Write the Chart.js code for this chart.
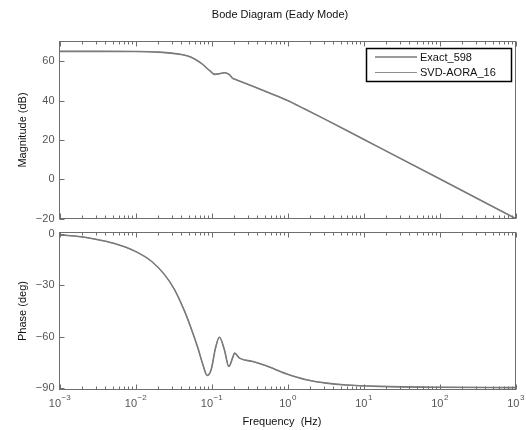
<!DOCTYPE html>
<html>
<head>
<meta charset="utf-8">
<script src="https://cdn.jsdelivr.net/npm/chart.js@4.4.0/dist/chart.umd.min.js"></script>
<style>
  body { margin: 0; background: #fff; }
  #wrap { position: relative; width: 526px; height: 430px; }
  canvas { position: absolute; left: 0; }
  #mag { top: 0; }
  #phase { top: 225px; }
</style>
</head>
<body>
<div id="wrap">
  <canvas id="mag" width="526" height="225"></canvas>
  <canvas id="phase" width="526" height="205"></canvas>
</div>
<script>
// data
const seriesNames = ['Exact_598', 'SVD-AORA_16']

const magFreq = [0.001, 0.003, 0.01, 0.02, 0.027, 0.04, 0.054, 0.073, 0.094, 0.11,
  0.127, 0.148, 0.172, 0.19, 0.2, 0.21, 0.37, 0.6, 1, 1.66, 3, 10, 100, 1000]
const magDb = [65.0, 65.0, 64.9, 64.6, 64.2, 63.4, 62.0, 59.0, 55.3, 53.3,
  53.6, 54.1, 53.1, 51.2, 50.9, 50.6, 46.9, 43.6, 40.0, 35.8, 30.8, 20.3, 0.2, -20.0]

const phaseFreq = [0.001, 0.00158, 0.00288, 0.0053, 0.0098, 0.0162, 0.0241, 0.0326, 0.0442, 0.0537,
  0.0661, 0.0769, 0.0877, 0.0991, 0.113, 0.127, 0.148, 0.169, 0.191, 0.201,
  0.234, 0.35, 0.525, 0.962, 1.76, 3.24, 5.89, 16.2, 100, 1000]
const phaseDeg = [-0.5, -1.2, -2.9, -5.6, -10.0, -15.9, -23.7, -32.4, -45.0, -54.8,
  -66.4, -76.1, -82.5, -79.0, -66.4, -60.2, -67.6, -77.3, -71.8, -69.5,
  -72.4, -74.4, -76.9, -81.5, -85.0, -87.0, -88.1, -88.9, -89.4, -89.6]

const decades = [0.001, 0.01, 0.1, 1, 10, 100, 1000]
const decadeExp = ['\u22123', '\u22122', '\u22121', '0', '1', '2', '3']
const magTicks = [-20, 0, 20, 40, 60]
const magTickLabels = ['\u221220', '0', '20', '40', '60']
const phaseTicks = [0, -30, -60, -90]
const phaseTickLabels = ['0', '\u221230', '\u221260', '\u221290']

const FONT = '"Liberation Sans", Arial, sans-serif'
const AXIS = '#6e6e6e'
const LABEL = '#555'

function points(xs, ys) {
  return xs.map((f, i) => ({ x: f, y: ys[i] }))
}

// frame, inside ticks, labels (MATLAB look)
const bodeAxes = {
  id: 'bodeAxes',
  afterDraw(chart, args, o) {
    const { ctx, chartArea: a } = chart
    const x = chart.scales.x
    const y = chart.scales.y
    ctx.save()
    ctx.strokeStyle = AXIS
    ctx.lineWidth = 1
    ctx.strokeRect(a.left, a.top, a.right - a.left, a.bottom - a.top)

    ctx.beginPath()
    decades.forEach((d, i) => {
      const px = Math.round(x.getPixelForValue(d)) + 0.5
      ctx.moveTo(px, a.top); ctx.lineTo(px, a.top + 5)
      ctx.moveTo(px, a.bottom); ctx.lineTo(px, a.bottom - 5)
      if (i < decades.length - 1) {
        for (let k = 2; k < 10; k++) {
          const mx = Math.round(x.getPixelForValue(d * k)) + 0.5
          ctx.moveTo(mx, a.top); ctx.lineTo(mx, a.top + 3)
          ctx.moveTo(mx, a.bottom); ctx.lineTo(mx, a.bottom - 3)
        }
      }
    })
    o.yTicks.forEach((v) => {
      const py = Math.round(y.getPixelForValue(v)) + 0.5
      ctx.moveTo(a.left, py); ctx.lineTo(a.left + 5, py)
    })
    ctx.stroke()

    // y tick labels
    ctx.fillStyle = LABEL
    ctx.font = '11px ' + FONT
    ctx.textAlign = 'right'
    ctx.textBaseline = 'middle'
    o.yTicks.forEach((v, i) => {
      ctx.fillText(o.yLabels[i], a.left - 5, y.getPixelForValue(v))
    })

    // y title
    ctx.fillStyle = '#111'
    ctx.save()
    ctx.translate(23, (a.top + a.bottom) / 2)
    ctx.rotate(-Math.PI / 2)
    ctx.textAlign = 'center'
    ctx.fillText(o.yTitle, 0, 0)
    ctx.restore()

    if (o.title) {
      ctx.textAlign = 'center'
      ctx.fillText(o.title, 280, 15)
    }

    if (o.xLabels) {
      decades.forEach((d, i) => {
        const px = x.getPixelForValue(d)
        ctx.font = '11px ' + FONT
        const wb = ctx.measureText('10').width
        ctx.font = '8px ' + FONT
        const we = ctx.measureText(decadeExp[i]).width
        const left = px - (wb + we) / 2
        ctx.fillStyle = LABEL
        ctx.textAlign = 'left'
        ctx.textBaseline = 'alphabetic'
        ctx.font = '11px ' + FONT
        ctx.fillText('10', left, a.bottom + 17)
        ctx.font = '8px ' + FONT
        ctx.fillText(decadeExp[i], left + wb + 0.5, a.bottom + 10)
      })
      ctx.fillStyle = '#111'
      ctx.font = '11px ' + FONT
      ctx.textAlign = 'center'
      ctx.textBaseline = 'middle'
      ctx.fillText('Frequency  (Hz)', 282, a.bottom + 32)
    }

    if (o.legend) {
      ctx.strokeStyle = '#000'
      ctx.lineWidth = 1.5
      ctx.strokeRect(366.5, 48.5, 145, 33)
      const rows = [57, 72.5]
      chart.data.datasets.forEach((ds, i) => {
        ctx.strokeStyle = ds.borderColor
        ctx.lineWidth = ds.borderWidth
        ctx.beginPath()
        ctx.moveTo(375, rows[i]); ctx.lineTo(417, rows[i])
        ctx.stroke()
        ctx.fillStyle = '#111'
        ctx.font = '11px ' + FONT
        ctx.textAlign = 'left'
        ctx.textBaseline = 'middle'
        ctx.fillText(ds.label, 420, rows[i] + 0.5)
      })
    }
    ctx.restore()
  },
}

function makeChart(id, xs, ys, yMin, yMax, padding, axesOpts) {
  return new Chart(document.getElementById(id), {
    type: 'line',
    data: {
      datasets: [
        {
          label: seriesNames[0],
          data: points(xs, ys),
          borderColor: '#7a7a7a',
          borderWidth: 1.6,
          pointRadius: 0,
          cubicInterpolationMode: 'monotone',
        },
        {
          label: seriesNames[1],
          data: points(xs, ys),
          borderColor: '#808080',
          borderWidth: 0.9,
          pointRadius: 0,
          cubicInterpolationMode: 'monotone',
        },
      ],
    },
    options: {
      responsive: false,
      animation: false,
      layout: { padding },
      scales: {
        x: { type: 'logarithmic', min: 0.001, max: 1000, display: false },
        y: { type: 'linear', min: yMin, max: yMax, display: false },
      },
      plugins: {
        legend: { display: false },
        tooltip: { enabled: false },
        bodeAxes: axesOpts,
      },
    },
    plugins: [bodeAxes],
  })
}

makeChart('mag', magFreq, magDb, -20, 70,
  { left: 59.5, right: 10.5, top: 41.5, bottom: 6.5 },
  { yTicks: magTicks, yLabels: magTickLabels, yTitle: 'Magnitude (dB)',
    title: 'Bode Diagram (Eady Mode)', legend: true })

makeChart('phase', phaseFreq, phaseDeg, -90.7, 0.87,
  { left: 59.5, right: 10.5, top: 7.5, bottom: 40.5 },
  { yTicks: phaseTicks, yLabels: phaseTickLabels, yTitle: 'Phase (deg)',
    xLabels: true })
</script>
</body>
</html>
